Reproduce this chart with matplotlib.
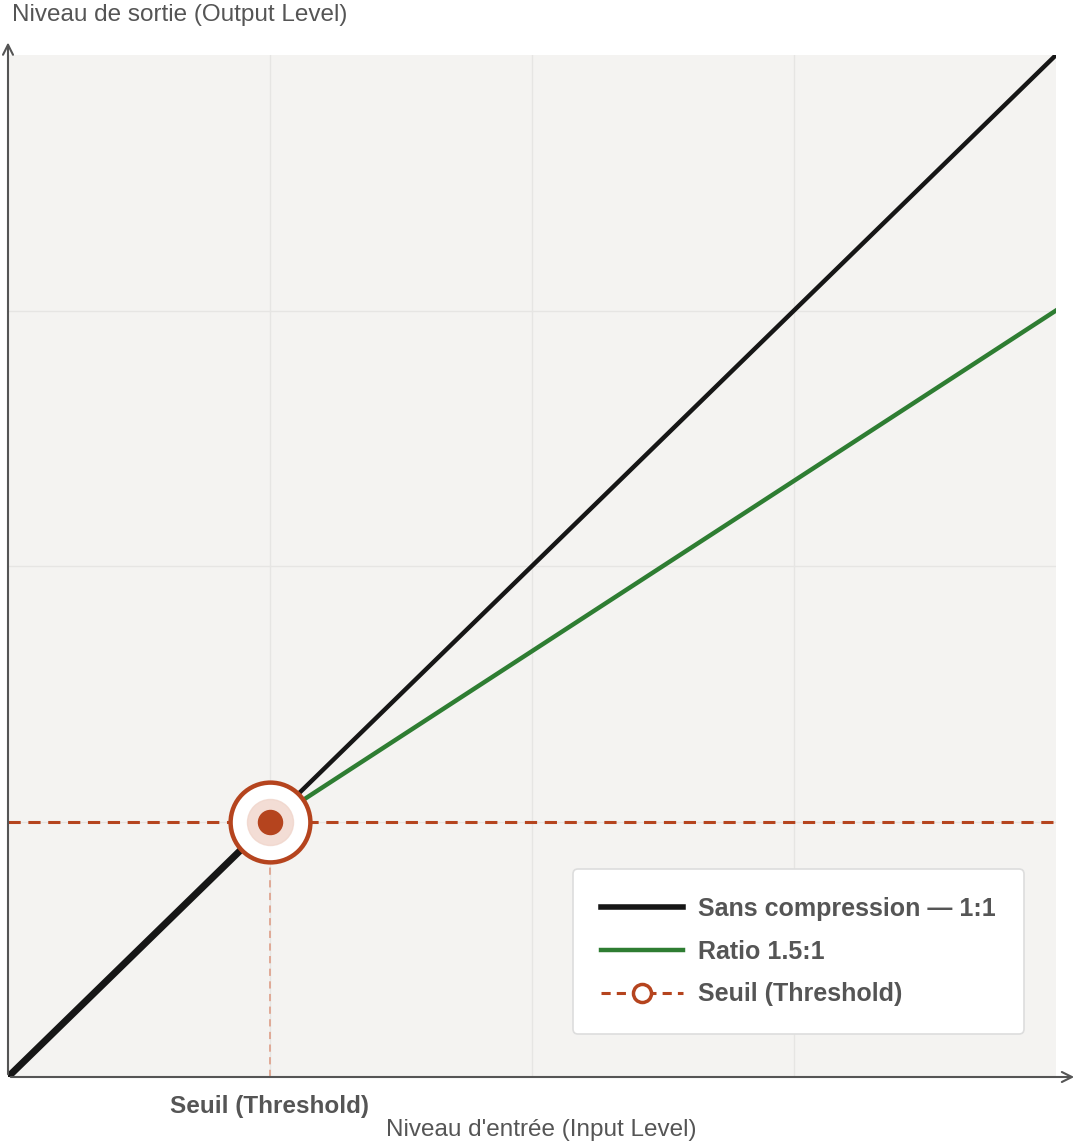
import matplotlib.pyplot as plt
from matplotlib.lines import Line2D

plt.rcParams['font.family'] = ['Liberation Sans', 'DejaVu Sans']

# data
x_max = 4.0
threshold = 1.0
ratio = 1.5
unity_x = [0, x_max]
unity_y = [0, x_max]
below_x = [0, threshold]
below_y = [0, threshold]
comp_x = [threshold, x_max]
comp_y = [threshold, threshold + (x_max - threshold) / ratio]

orange = '#b5441e'
green = '#2e7d32'
grey = '#555555'

fig = plt.figure(figsize=(10.77, 11.46), dpi=100)
ax = fig.add_axes([8 / 1077, 69 / 1146, 1048 / 1077, 1022 / 1146])
ax.set_facecolor('#f4f3f1')
ax.set_xlim(0, x_max)
ax.set_ylim(0, x_max)
for s in ax.spines.values():
    s.set_visible(False)
ax.set_xticks([1, 2, 3])
ax.set_yticks([1, 2, 3])
ax.tick_params(length=0, labelbottom=False, labelleft=False)
ax.grid(color='#e6e5e3', lw=1)

ax.plot(unity_x, unity_y, color='#161616', lw=3.2, solid_capstyle='round', zorder=3)
ax.plot(below_x, below_y, color='#161616', lw=5, solid_capstyle='round', zorder=3)
ax.plot(comp_x, comp_y, color=green, lw=3.2, zorder=4)
ax.axhline(threshold, color=orange, lw=2.2, ls=(0, (4, 2.5)), zorder=2)
ax.plot([threshold, threshold], [0, threshold], color='#dfa48f', lw=1.3,
        ls=(0, (4, 3)), zorder=2)
ax.scatter([threshold], [threshold], s=3300, facecolor='white', edgecolor=orange,
           lw=3.2, zorder=5, clip_on=False)
ax.scatter([threshold], [threshold], s=1100, color='#f0d5cb', alpha=0.8, zorder=6)
ax.scatter([threshold], [threshold], s=300, color=orange, zorder=7)

# axes with arrows
ax.annotate('', xy=(1.02, 0), xytext=(0, 0), xycoords='axes fraction',
            arrowprops=dict(arrowstyle='->', color=grey, lw=1.5, mutation_scale=18))
ax.annotate('', xy=(0, 1.015), xytext=(0, 0), xycoords='axes fraction',
            arrowprops=dict(arrowstyle='->', color=grey, lw=1.5, mutation_scale=18))

fig.text(12 / 1077, 1 - 15 / 1146, 'Niveau de sortie (Output Level)', color=grey,
         fontsize=17.5, va='center', ha='left')
fig.text(541 / 1077, 1 - 1130 / 1146, "Niveau d'entrée (Input Level)", color=grey,
         fontsize=17.5, va='center', ha='center')
ax.text(threshold, -0.029 * x_max, 'Seuil (Threshold)', color=grey, fontsize=17.5,
        fontweight='bold', ha='center', va='center', clip_on=False)

handles = [
    Line2D([], [], color='#161616', lw=4),
    Line2D([], [], color=green, lw=3.2),
    Line2D([], [], color=orange, lw=2.2, ls=(0, (3, 2)), marker='o', ms=13,
           mfc='white', mec=orange, mew=2.5),
]
labels = ['Sans compression — 1:1', 'Ratio 1.5:1', 'Seuil (Threshold)']
leg = ax.legend(handles, labels, loc='lower right', bbox_to_anchor=(0.981, 0.03),
                prop={'weight': 'bold', 'size': 18}, labelcolor=grey,
                frameon=True, fancybox=True, borderpad=1.1, labelspacing=0.75,
                handlelength=3.3, handletextpad=0.6, facecolor='white',
                edgecolor='#dddddd', framealpha=1)
leg.get_frame().set_linewidth(1.2)
leg.set_zorder(10)

fig.savefig('out.png', dpi=100)
